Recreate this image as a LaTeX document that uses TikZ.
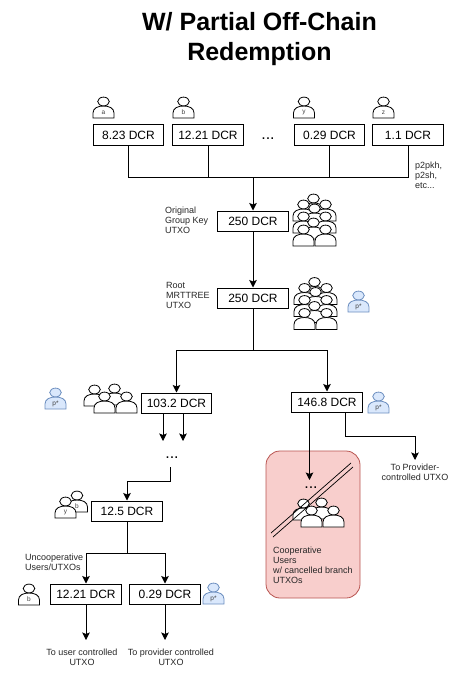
\documentclass[tikz,border=0pt]{standalone}
\usepackage{fontspec}
\setmainfont{Liberation Sans}
\usetikzlibrary{arrows.meta}
\definecolor{usrblue}{HTML}{DAE8FC}
\definecolor{usrbluedk}{HTML}{6C8EBF}
\definecolor{redfill}{HTML}{F8CECC}
\definecolor{reddk}{HTML}{B85450}
\newcommand{\usrshape}{%
  \path[pic actions] (0,21) -- (0,16) .. controls (0,11) and (5,9) .. (10.5,9)
    .. controls (16,9) and (21,11) .. (21,16) -- (21,21) -- cycle;
  \path[pic actions] (10.5,4.5) ellipse [x radius=5.8, y radius=4.4];
}
\tikzset{
  box/.style={draw=black, line width=1pt, minimum width=70.5pt, minimum height=20pt, inner sep=0pt, font=\fontsize{12}{14}\selectfont},
  wire/.style={draw=black, line width=1pt},
  arr/.style={wire, -{Stealth[length=7.5pt,width=7.5pt,inset=1.5pt]}},
  lab/.style={align=left, anchor=west, inner sep=0pt, text=black!85, font=\fontsize{9}{10}\selectfont},
  labc/.style={align=center, inner sep=0pt, text=black!85, font=\fontsize{9}{10}\selectfont},
  dots/.style={inner sep=0pt, font=\fontsize{16}{16}\selectfont},
  usr/.pic={\usrshape},
  usrl/.pic={\usrshape
    \node[inner sep=0pt, text=black!75, font=\fontsize{6.5}{7}\selectfont] (-lab) at (10.5,15.5) {#1};},
  usrl/.default={},
  plain/.style={draw=black, fill=white, line width=0.8pt},
  prov/.style={draw=usrbluedk, fill=usrblue, line width=0.8pt},
  crowd/.pic={
    \foreach \ux/\uy in {20/0, 10/6, 32/6, 21/10, 10/18, 32/18, 20/24, 10/31, 32/31}
      \pic[plain] at (\ux-10,\uy) {usr};
  },
}
\begin{document}
\begin{tikzpicture}[x=1pt,y=-1pt]
  \useasboundingbox (0,0) rectangle (467,682);
  \node[align=center, inner sep=0pt, font=\fontsize{25}{30}\selectfont\bfseries] (title) at (259.5,39.5) {W/ Partial Off-Chain\\Redemption};

  % red area first, everything else on top
  \node[draw=reddk, fill=redfill, line width=0.8pt, rounded corners=14pt, minimum width=94pt, minimum height=147pt, inner sep=0pt] (cancel) at (313,524.5) {};

  % inputs
  \node[box] (ina) at (128.5,135) {8.23 DCR};
  \node[box] (inb) at (208,135) {12.21 DCR};
  \node[box] (iny) at (329.5,135) {0.29 DCR};
  \node[box] (inz) at (408,135) {1.1 DCR};
  \node[dots] (indots) at (268,139) {...};
  \pic[plain] (ua) at (93,97) {usrl=a};
  \pic[plain] (ub) at (173,97) {usrl=b};
  \pic[plain] (uy) at (293.5,97) {usrl=y};
  \pic[plain] (uz) at (373,97) {usrl=z};
  \node[lab] (types) at (415,175.5) {p2pkh,\\p2sh,\\etc...};

  \node[box] (orig) at (253,221) {250 DCR};
  \node[lab] (origlab) at (165,220.7) {Original\\Group Key\\UTXO};
  \pic at (293,194) {crowd};

  \node[box] (root) at (253,298) {250 DCR};
  \node[lab] (rootlab) at (166,295) {Root\\MRTTREE\\UTXO};
  \pic at (294,277.5) {crowd};
  \pic[prov] (pa) at (348,291) {usrl=p*};

  % split
  \node[box] (left) at (176.5,403) {103.2 DCR};
  \node[box] (right) at (327,402) {146.8 DCR};
  \pic[prov] (pb) at (45,388) {usrl=p*};
  \foreach \ux/\uy in {84/385, 104/384, 94/392, 116/392}
    \pic[plain] at (\ux,\uy) {usr};
  \pic[prov] (pc) at (368,392) {usrl=p*};

  \node[dots] (middots) at (172,458) {...};
  \node[box] (mid) at (127,511) {12.5 DCR};
  \pic[plain] (ub2) at (66.5,491) {usrl=b};
  \pic[plain] (uy2) at (55,497) {usrl=y};

  \node[box] (outu) at (86,594) {12.21 DCR};
  \node[box] (outp) at (165,594) {0.29 DCR};
  \node[labc, anchor=west, align=left] (unco) at (25,562) {Uncooperative\\Users/UTXOs};
  \pic[plain] (ub3) at (18.5,584) {usrl=b};
  \pic[prov] (pd) at (203,583) {usrl=p*};
  \node[labc] (tou) at (82,657.5) {To user controlled\\UTXO};
  \node[labc] (top) at (171,657.5) {To provider controlled\\UTXO};
  \node[labc] (topr) at (415,472) {To Provider-\\controlled UTXO};

  % cancelled users
  \node[dots] (candots) at (311,488) {...};
  \foreach \ux/\uy in {293/499, 311/498, 301/506, 323/506}
    \pic[plain] at (\ux,\uy) {usr};
  \coordinate (sla) at (271,533); \coordinate (slb) at (351,463);
  \coordinate (slc) at (273,537); \coordinate (sld) at (353,467);
  \draw[line width=0.7pt] (sla) -- (slb);
  \draw[line width=0.7pt] (slc) -- (sld);
  \node[lab] (canlab) at (273,565) {Cooperative\\Users\\w/ cancelled branch\\UTXOs};

  % connectors
  \coordinate (busz) at (408,177);
  \coordinate (busm) at (253,177);
  \draw[wire] (ina.south) |- (busz) -- (inz.south);
  \draw[wire] (inb.south) -- (inb.south |- busz);
  \draw[wire] (iny.south) -- (iny.south |- busz);
  \draw[arr] (busm) -- (orig.north);
  \draw[arr] (orig.south) -- (root.north);
  \coordinate (busa) at (253,350);
  \draw[wire] (root.south) -- (busa);
  \draw[arr] (busa) -| (left.north);
  \draw[arr] (busa) -| (right.north);

  \coordinate (arra) at (163,441); \coordinate (arrb) at (183,441);
  \draw[arr] (left.south -| arra) -- (arra);
  \draw[arr] (left.south -| arrb) -- (arrb);
  \coordinate (dotout) at (170.5,467); \coordinate (dotbend) at (170.5,481);
  \draw[arr] (dotout) -- (dotbend) -| (mid.north);

  \coordinate (busb) at (127,553);
  \draw[wire] (mid.south) -- (busb);
  \draw[arr] (busb) -| (outu.north);
  \draw[arr] (busb) -| (outp.north);
  \coordinate (endu) at (86,640); \coordinate (endp) at (165,640);
  \draw[arr] (outu.south) -- (endu);
  \draw[arr] (outp.south) -- (endp);

  \coordinate (arrc) at (309.5,480);
  \draw[arr] (right.south -| arrc) -- (arrc);
  \coordinate (rbend) at (345,436); \coordinate (endr) at (415,460);
  \draw[arr] (right.south -| rbend) -- (rbend) -| (endr);
\end{tikzpicture}
\end{document}
